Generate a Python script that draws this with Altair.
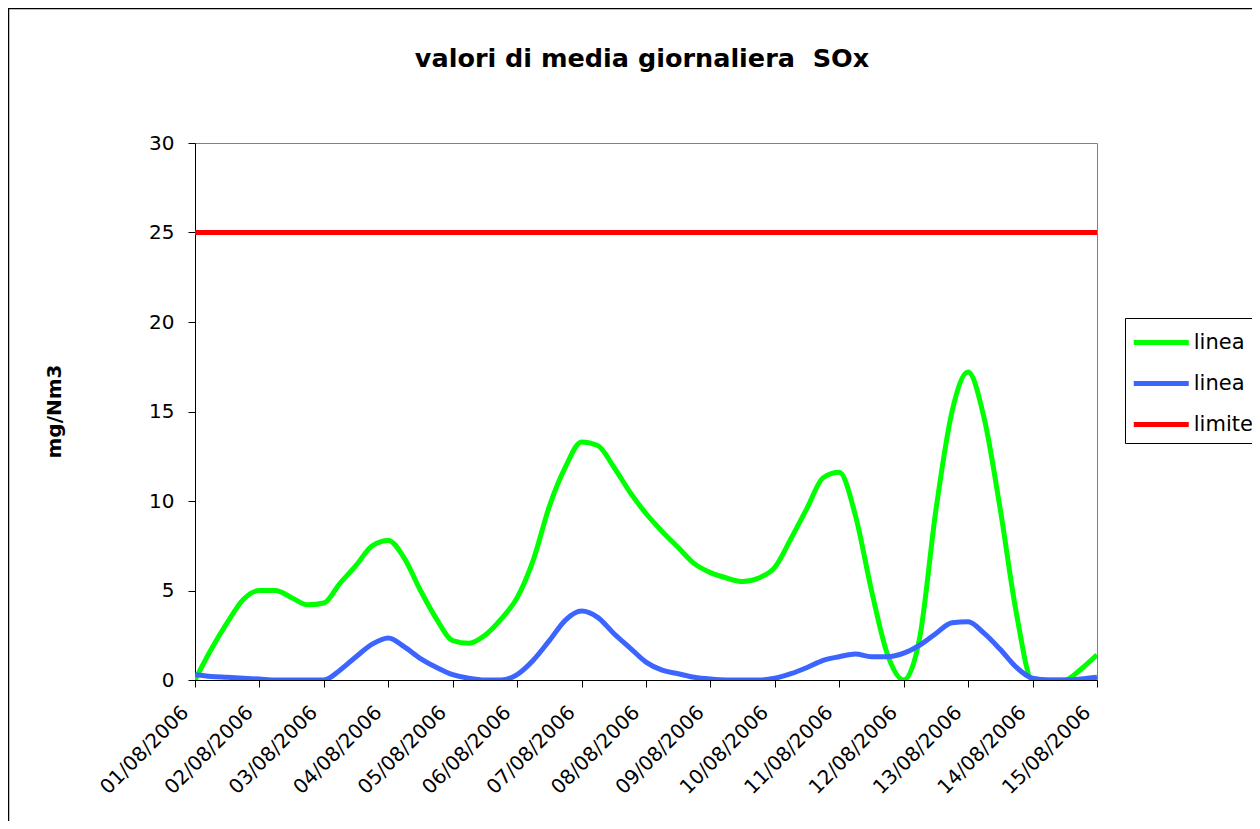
import altair as alt
import pandas as pd

# x-axis categories (one per day)
date_labels = ["01/08/2006", "02/08/2006", "03/08/2006", "04/08/2006", "05/08/2006",
               "06/08/2006", "07/08/2006", "08/08/2006", "09/08/2006", "10/08/2006",
               "11/08/2006", "12/08/2006", "13/08/2006", "14/08/2006", "15/08/2006"]

# sampling instants, in days from 01/08/2006 (every 6 hours)
times = [i / 4 for i in range(57)]

linea_1 = [0.0, 1.7, 3.2, 4.5, 5.0, 5.0, 4.6, 4.2, 4.3, 5.4, 6.4, 7.5, 7.8, 6.8, 5.0, 3.4,
           2.2, 2.05, 2.5, 3.4, 4.6, 6.7, 9.7, 11.9, 13.3, 13.1, 11.9, 10.5, 9.3, 8.3, 7.4, 6.5,
           6.0, 5.7, 5.5, 5.7, 6.3, 7.9, 9.6, 11.3, 11.6, 9.2, 5.0, 1.4, 0.0, 2.4, 9.5, 15.0,
           17.2, 14.6, 9.5, 3.7, 0.0, 0.0, 0.0, 0.6, 1.4]

linea_2 = [0.3, 0.2, 0.15, 0.1, 0.05, 0.0, 0.0, 0.0, 0.0, 0.55, 1.3, 2.0, 2.35, 1.85, 1.2, 0.7,
           0.3, 0.1, 0.0, 0.0, 0.3, 1.1, 2.2, 3.35, 3.85, 3.5, 2.6, 1.8, 1.0, 0.55, 0.35, 0.15,
           0.05, 0.0, 0.0, 0.0, 0.1, 0.35, 0.7, 1.1, 1.3, 1.45, 1.3, 1.3, 1.5, 1.95, 2.6, 3.2,
           3.25, 2.6, 1.7, 0.7, 0.1, 0.0, 0.0, 0.05, 0.15]

limite_times = [0, 14]
limite = [25, 25]

series_names = ["linea 1", "linea 2", "limite"]
series_colors = ["#00FF00", "#3C64FF", "#FF0000"]
series_widths = [5, 5, 3]

rows = []
for t, v in zip(times, linea_1):
    rows.append({"t": t, "v": v, "serie": "linea 1"})
for t, v in zip(times, linea_2):
    rows.append({"t": t, "v": v, "serie": "linea 2"})
for t, v in zip(limite_times, limite):
    rows.append({"t": t, "v": v, "serie": "limite"})
df = pd.DataFrame(rows)

FONT = "DejaVu Sans"
label_js = "[" + ",".join("'" + s + "'" for s in date_labels) + "]"

lines = alt.Chart(df).mark_line(interpolate="monotone", clip=True).encode(
    x=alt.X("t:Q",
            scale=alt.Scale(domain=[0, 14], nice=False, zero=False),
            axis=alt.Axis(values=list(range(15)), labelExpr=label_js + "[round(datum.value)]",
                          labelAngle=-45, labelAlign="right", labelBaseline="middle",
                          labelPadding=22, labelOffset=-10, title=None, grid=False,
                          labelOverlap=False, labelBound=False, labelFlush=False,
                          tickSize=7, labelFontSize=20)),
    y=alt.Y("v:Q",
            scale=alt.Scale(domain=[0, 30], nice=False),
            axis=alt.Axis(values=[0, 5, 10, 15, 20, 25, 30], title="mg/Nm3", grid=False,
                          tickSize=7, labelPadding=14, labelFontSize=20,
                          titleX=-141, titleY=268, titleAngle=-90, titleAlign="center",
                          titleBaseline="middle", titleFontSize=20, titleFontWeight="bold")),
    color=alt.Color("serie:N", scale=alt.Scale(domain=series_names, range=series_colors),
                    legend=alt.Legend(title=None)),
    strokeWidth=alt.StrokeWidth("serie:N", scale=alt.Scale(domain=series_names, range=series_widths),
                                legend=alt.Legend(title=None)),
    order=alt.Order("t:Q"),
)

frame = alt.Chart(pd.DataFrame({"a": [0]})).mark_rect(
    filled=False, stroke="black", strokeWidth=1.5
).encode(
    x=alt.value(-186.5), x2=alt.value(1100), y=alt.value(-134.5), y2=alt.value(720)
)

chart = alt.layer(frame, lines).properties(
    width=902,
    height=537,
    autosize=alt.AutoSizeParams(type="none"),
    padding={"left": 187, "top": 135, "right": 155, "bottom": 141},
    title=alt.TitleParams("valori di media giornaliera\u00a0 SOx", fontSize=25.5, fontWeight="bold",
                          font=FONT, color="black", anchor="middle", frame="group",
                          baseline="alphabetic", offset=0, dy=85, dx=-4),
).configure_view(
    stroke="#808080", strokeWidth=1
).configure_axis(
    labelFont=FONT, titleFont=FONT, labelColor="black", titleColor="black",
    domainColor="black", tickColor="black", domainWidth=1, tickWidth=1
).configure_legend(
    orient="none", legendX=930, legendY=175, strokeColor="black", fillColor="white",
    padding=8, symbolType="M-2,0H2", symbolSize=756, symbolOffset=11.75,
    labelFont=FONT, labelFontSize=21,
    labelColor="black", labelOffset=16, rowPadding=14
)

chart.save("out.html", embed_options={"renderer": "svg", "actions": False})
